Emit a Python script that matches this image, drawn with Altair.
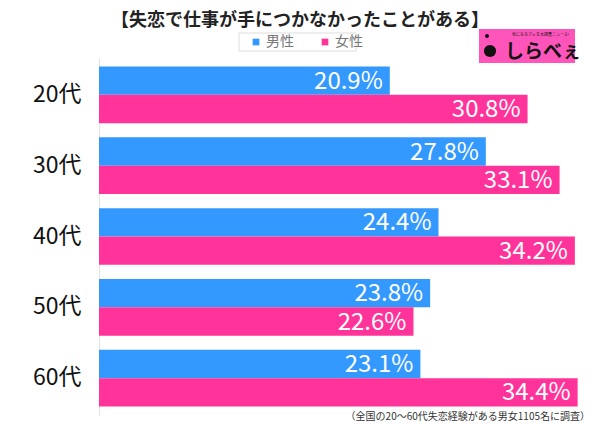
import altair as alt
import pandas as pd

ages = ["20代", "30代", "40代", "50代", "60代"]
male = [20.9, 27.8, 24.4, 23.8, 23.1]
female = [30.8, 33.1, 34.2, 22.6, 34.4]
genders = ["男性", "女性"]
colors = ["#3399ff", "#ff3399"]
title_text = "【失恋で仕事が手につかなかったことがある】"
note_text = "（全国の20～60代失恋経験がある男女1105名に調査）"

rows = []
for a, m, f in zip(ages, male, female):
    rows.append({"age": a, "gender": "男性", "value": m, "label": f"{m:.1f}%"})
    rows.append({"age": a, "gender": "女性", "value": f, "label": f"{f:.1f}%"})
df = pd.DataFrame(rows)

FONT = "Noto Sans CJK JP"
one = pd.DataFrame({"k": [0]})

base = alt.Chart(df).encode(
    y=alt.Y("age:N", sort=ages,
            scale=alt.Scale(paddingInner=0.2, paddingOuter=0.12),
            axis=alt.Axis(title=None, labelFontSize=23, labelColor="#111", ticks=False,
                          domainColor="#e3e3e3", labelPadding=18, labelFont=FONT)),
    yOffset=alt.YOffset("gender:N", sort=genders,
                        scale=alt.Scale(domain=genders, paddingInner=0, paddingOuter=0)),
    x=alt.X("value:Q", scale=alt.Scale(domain=[0, 35]), axis=None),
)

bars = base.mark_bar().encode(
    color=alt.Color("gender:N", scale=alt.Scale(domain=genders, range=colors),
                    legend=alt.Legend(orient="none", legendX=150, legendY=-23,
                                      direction="horizontal", title=None,
                                      symbolType="square", symbolSize=45,
                                      symbolStrokeWidth=0, labelFontSize=14,
                                      labelColor="#777", labelFont=FONT,
                                      columnPadding=24, labelOffset=3, padding=0))
)

labels = base.mark_text(align="right", baseline="middle", dx=-7, dy=1, color="white",
                        fontSize=24, font=FONT).encode(text="label:N")

legend_box = alt.Chart(one).mark_rect(fill="white", stroke="#dddddd", strokeWidth=1).encode(
    x=alt.value(140), x2=alt.value(257), y=alt.value(-25), y2=alt.value(-7))

title = alt.Chart(one).mark_text(text=title_text, fontSize=18, fontWeight="bold",
                                 font=FONT, color="#222", align="center",
                                 baseline="middle").encode(
    x=alt.value(201), y=alt.value(-37))

note = alt.Chart(one).mark_text(text=note_text, fontSize=10, font=FONT, color="#333",
                                align="right", baseline="middle").encode(
    x=alt.value(491), y=alt.value(359))

logo_rect = alt.Chart(one).mark_rect(fill="#ff55bb").encode(
    x=alt.value(380), x2=alt.value(476), y=alt.value(-29), y2=alt.value(5))
logo_text = alt.Chart(one).mark_text(text="しらべぇ", fontSize=19, fontWeight="bold",
                                     font=FONT, color="#111", align="left",
                                     baseline="middle").encode(
    x=alt.value(406), y=alt.value(-6))
logo_small = alt.Chart(one).mark_text(text="気になるアレを大調査ニュース!", fontSize=4,
                                      font=FONT, color="#111", align="left",
                                      baseline="middle").encode(
    x=alt.value(413), y=alt.value(-23))
logo_dot = alt.Chart(one).mark_point(filled=True, color="#111", size=150, opacity=1).encode(
    x=alt.value(391), y=alt.value(-7))
logo_dot2 = alt.Chart(one).mark_point(filled=True, color="#111", size=16, opacity=1).encode(
    x=alt.value(388), y=alt.value(-22))

chart = alt.layer(
    legend_box, bars, labels, title, note, logo_rect, logo_text, logo_small, logo_dot, logo_dot2
).properties(
    width=487, height=357,
    padding={"left": 91, "top": 50, "right": 6, "bottom": 9},
    autosize=alt.AutoSizeParams(type="none"),
).configure_view(stroke=None)

chart.save("out.html", embed_options={"renderer": "svg", "actions": False})
